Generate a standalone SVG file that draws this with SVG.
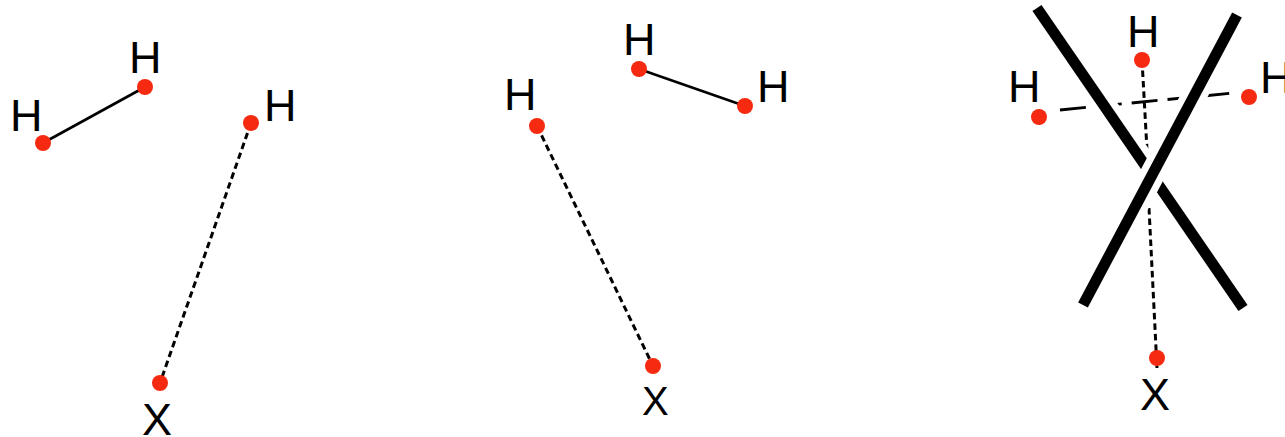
<svg xmlns="http://www.w3.org/2000/svg" width="1285" height="437" viewBox="0 0 1285 437">
<style>
.lbl{font-family:"Liberation Sans",Arial,sans-serif;font-size:45px;fill:#000}
.atom{fill:#f52a10}
.bond{stroke:#000;stroke-width:2.6;fill:none}
.dash{stroke:#000;stroke-width:3;fill:none;stroke-dasharray:6.5 4}
.ldash{stroke:#000;stroke-width:2.8;fill:none;stroke-dasharray:26 10}
.bar{stroke:#000;stroke-width:11;fill:none}
.halo{stroke:#fff;stroke-width:25;fill:none}
</style>
<rect width="1285" height="437" fill="#fff"/>
<g id="connectors">
<line class="bond" x1="43" y1="143" x2="145" y2="87"/>
<line class="dash" x1="251" y1="123" x2="160" y2="383"/>
<line class="bond" x1="639" y1="69" x2="745" y2="106"/>
<line class="dash" x1="537" y1="126" x2="653" y2="366"/>
<line class="ldash" x1="1060" y1="110" x2="1234" y2="93"/>
<line class="dash" x1="1142" y1="60" x2="1147" y2="150"/>
<line class="dash" x1="1149" y1="208" x2="1157" y2="368"/>
</g>
<g id="cross">
<line class="halo" x1="1037" y1="8" x2="1243" y2="308"/>
<line class="bar" x1="1037" y1="8" x2="1243" y2="308"/>
<line class="halo" x1="1237" y1="15" x2="1083" y2="305"/>
<line class="bar" x1="1237" y1="15" x2="1083" y2="305"/>
</g>
<g id="p1-h1"><circle class="atom" cx="43" cy="143" r="8"/><text class="lbl" x="10" y="131">H</text></g>
<g id="p1-h2"><circle class="atom" cx="145" cy="87" r="8"/><text class="lbl" x="129" y="73">H</text></g>
<g id="p1-h3"><circle class="atom" cx="251" cy="123" r="8"/><text class="lbl" x="264" y="121">H</text></g>
<g id="p1-x"><circle class="atom" cx="160" cy="383" r="8"/><text class="lbl" x="142" y="435">X</text></g>
<g id="p2-h1"><circle class="atom" cx="537" cy="126" r="8"/><text class="lbl" x="504" y="110">H</text></g>
<g id="p2-h2"><circle class="atom" cx="639" cy="69" r="8"/><text class="lbl" x="623" y="55">H</text></g>
<g id="p2-h3"><circle class="atom" cx="745" cy="106" r="8"/><text class="lbl" x="757" y="102">H</text></g>
<g id="p2-x"><circle class="atom" cx="653" cy="366" r="8"/><text class="lbl" x="642" y="415" style="font-size:40px">X</text></g>
<g id="p3-h1"><circle class="atom" cx="1039" cy="117" r="8"/><text class="lbl" x="1008" y="102">H</text></g>
<g id="p3-h2"><circle class="atom" cx="1142" cy="60" r="8"/><text class="lbl" x="1127" y="47">H</text></g>
<g id="p3-h3"><circle class="atom" cx="1249" cy="97" r="8"/><text class="lbl" x="1260" y="93">H</text></g>
<g id="p3-x"><circle class="atom" cx="1157" cy="358" r="8"/><text class="lbl" x="1140" y="410">X</text></g>
</svg>
